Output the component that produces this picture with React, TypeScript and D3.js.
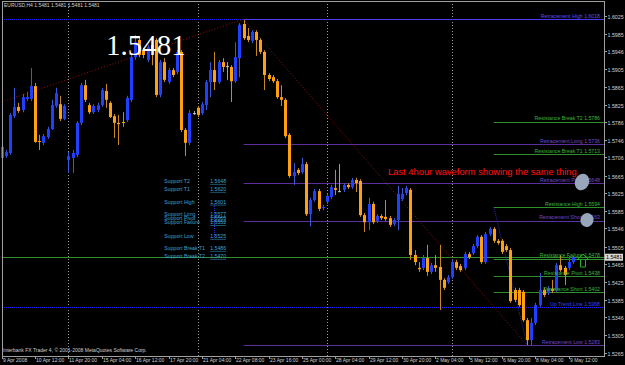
import React from "react";
import * as d3 from "d3";

// ---------- DATA (EURUSD H4) ----------
const opens = [1.5705,1.5709,1.5716,1.5799,1.5820,1.5813,1.5838,1.5838,1.5867,1.5743,1.5739,1.5752,1.5770,1.5822,1.5826,1.5793,1.5700,1.5705,1.5712,1.5784,1.5869,1.5824,1.5808,1.5813,1.5824,1.5856,1.5829,1.5799,1.5784,1.5786,1.5790,1.5836,1.5932,1.5971,1.5948,1.5926,1.5960,1.5971,1.5847,1.5921,1.5876,1.5903,1.5899,1.5944,1.5768,1.5739,1.5806,1.5818,1.5806,1.5824,1.5876,1.5903,1.5876,1.5921,1.5912,1.5910,1.5878,1.5930,1.6007,1.5980,1.5969,1.5989,1.5971,1.5944,1.5892,1.5887,1.5878,1.5842,1.5836,1.5757,1.5664,1.5678,1.5673,1.5691,1.5578,1.5610,1.5630,1.5592,1.5606,1.5617,1.5637,1.5630,1.5633,1.5644,1.5639,1.5655,1.5653,1.5576,1.5560,1.5601,1.5563,1.5574,1.5572,1.5569,1.5556,1.5565,1.5612,1.5626,1.5633,1.5486,1.5457,1.5457,1.5479,1.5448,1.5463,1.5459,1.5430,1.5425,1.5436,1.5470,1.5461,1.5457,1.5488,1.5490,1.5506,1.5527,1.5470,1.5533,1.5545,1.5518,1.5518,1.5506,1.5497,1.5407,1.5407,1.5403,1.5339,1.5294,1.5333,1.5373,1.5407,1.5400,1.5410,1.5407,1.5463,1.5457,1.5457,1.5470];
const highs = [1.5739,1.5723,1.5806,1.5863,1.5829,1.5849,1.5854,1.5908,1.5874,1.5757,1.5759,1.5775,1.5836,1.5863,1.5845,1.5826,1.5718,1.5723,1.5788,1.5874,1.5881,1.5829,1.5826,1.5829,1.5863,1.5872,1.5833,1.5804,1.5802,1.5808,1.5845,1.5937,1.5982,1.5980,1.5953,1.5960,1.5971,1.5975,1.5926,1.5930,1.5908,1.5908,1.5948,1.5948,1.5772,1.5813,1.5811,1.5822,1.5831,1.5881,1.5921,1.5944,1.5926,1.5930,1.5921,1.5914,1.5966,1.6009,1.6016,1.5998,1.5993,1.5993,1.5975,1.5948,1.5896,1.5892,1.5883,1.5869,1.5840,1.5761,1.5693,1.5682,1.5705,1.5696,1.5615,1.5635,1.5635,1.5599,1.5624,1.5644,1.5678,1.5691,1.5648,1.5648,1.5660,1.5660,1.5657,1.5581,1.5615,1.5606,1.5578,1.5578,1.5610,1.5574,1.5569,1.5642,1.5637,1.5642,1.5637,1.5497,1.5470,1.5486,1.5509,1.5468,1.5486,1.5509,1.5434,1.5441,1.5475,1.5475,1.5466,1.5493,1.5493,1.5511,1.5531,1.5531,1.5538,1.5549,1.5549,1.5522,1.5522,1.5511,1.5502,1.5412,1.5412,1.5407,1.5344,1.5344,1.5378,1.5445,1.5412,1.5416,1.5430,1.5468,1.5486,1.5461,1.5484,1.5484];
const lows = [1.5700,1.5705,1.5712,1.5795,1.5806,1.5808,1.5833,1.5833,1.5739,1.5723,1.5734,1.5748,1.5768,1.5818,1.5788,1.5790,1.5671,1.5671,1.5707,1.5779,1.5831,1.5804,1.5804,1.5808,1.5820,1.5818,1.5795,1.5750,1.5734,1.5775,1.5786,1.5831,1.5926,1.5932,1.5930,1.5921,1.5914,1.5842,1.5842,1.5876,1.5872,1.5887,1.5894,1.5763,1.5709,1.5734,1.5802,1.5797,1.5802,1.5813,1.5842,1.5858,1.5872,1.5899,1.5881,1.5831,1.5874,1.5887,1.5971,1.5966,1.5964,1.5935,1.5939,1.5858,1.5878,1.5874,1.5838,1.5822,1.5750,1.5660,1.5644,1.5666,1.5669,1.5574,1.5551,1.5606,1.5585,1.5587,1.5601,1.5612,1.5621,1.5628,1.5628,1.5635,1.5635,1.5628,1.5572,1.5538,1.5542,1.5556,1.5558,1.5565,1.5563,1.5549,1.5551,1.5542,1.5608,1.5621,1.5475,1.5463,1.5448,1.5452,1.5439,1.5443,1.5448,1.5362,1.5407,1.5421,1.5432,1.5452,1.5448,1.5452,1.5477,1.5486,1.5502,1.5466,1.5466,1.5529,1.5513,1.5509,1.5488,1.5493,1.5378,1.5380,1.5369,1.5335,1.5283,1.5283,1.5328,1.5369,1.5391,1.5396,1.5400,1.5403,1.5448,1.5418,1.5452,1.5466];
const closes = [1.5730,1.5718,1.5802,1.5820,1.5811,1.5842,1.5842,1.5867,1.5741,1.5741,1.5754,1.5770,1.5824,1.5851,1.5793,1.5822,1.5709,1.5716,1.5784,1.5869,1.5836,1.5808,1.5822,1.5824,1.5858,1.5836,1.5797,1.5784,1.5781,1.5784,1.5840,1.5932,1.5966,1.5937,1.5937,1.5955,1.5948,1.5847,1.5921,1.5881,1.5903,1.5892,1.5944,1.5768,1.5739,1.5806,1.5806,1.5802,1.5826,1.5876,1.5903,1.5876,1.5921,1.5910,1.5912,1.5878,1.5932,1.6005,1.5975,1.5971,1.5989,1.5971,1.5944,1.5892,1.5883,1.5878,1.5842,1.5836,1.5754,1.5664,1.5673,1.5671,1.5691,1.5578,1.5610,1.5630,1.5590,1.5594,1.5619,1.5639,1.5633,1.5630,1.5644,1.5639,1.5655,1.5648,1.5576,1.5560,1.5601,1.5560,1.5574,1.5569,1.5567,1.5554,1.5565,1.5624,1.5624,1.5637,1.5486,1.5470,1.5454,1.5479,1.5448,1.5463,1.5457,1.5430,1.5412,1.5436,1.5470,1.5457,1.5452,1.5488,1.5481,1.5506,1.5527,1.5470,1.5533,1.5545,1.5518,1.5513,1.5493,1.5497,1.5382,1.5385,1.5373,1.5339,1.5294,1.5333,1.5373,1.5407,1.5396,1.5412,1.5405,1.5463,1.5452,1.5441,1.5470,1.5481];

const dateLabels = ["9 Apr 2008","10 Apr 12:00","11 Apr 20:00","15 Apr 04:00","16 Apr 12:00","17 Apr 20:00","21 Apr 04:00","22 Apr 08:00","23 Apr 16:00","25 Apr 00:00","28 Apr 04:00","29 Apr 12:00","30 Apr 20:00","2 May 04:00","5 May 12:00","6 May 20:00","8 May 04:00","9 May 12:00"];
const priceTickLabels = ["1.6025","1.5985","1.5946","1.5905","1.5865","1.5825","1.5786","1.5746","1.5706","1.5665","1.5625","1.5585","1.5546","1.5505","1.5465","1.5425","1.5385","1.5346","1.5305","1.5265"];
const weekSeparatorBars = [16, 47, 78, 108];

const currentPrice = 1.5481;
const symbolHeader = "EURUSD,H4  1.5481 1.5481 1.5481 1.5481";
const copyright = "Interbank FX Trader 4, \u00A9 2001-2008 MetaQuotes Software Corp.";

const retracementNames = ["Retracement High","Retracement Long","Retracement Pivot","Retracement Short","Retracement Low"];
const retracementValues = [1.6018, 1.5736, 1.5648, 1.5563, 1.5283];
const resistanceNames = ["Resistance Break T2","Resistance Break T1","Resistance High","Resistance Failure","Resistance Pivot","Resistance Short"];
const resistanceValues = [1.5786, 1.5713, 1.5594, 1.5478, 1.5438, 1.5402];
const upTrendName = "Up Trend Line";
const upTrendValue = 1.5368;

const supportNames = ["Support  T2","Support  T1","Support   High","Support Long","Support   Pivot","Support Failure","Support   Low","Support Break T1","Support Break T2"];
const supportValues = [1.5648, 1.5620, 1.5601, 1.5577, 1.5565, 1.5552, 1.5525, 1.5486, 1.5470];
const supportLabelPrices = [1.5653, 1.5635, 1.5606, 1.5578, 1.5569, 1.5560, 1.5529, 1.5502, 1.5484];

// wave lines: [bar, price]
const waveUp = [[0, 1.5831], [58, 1.6018]];
const waveDown = [[58, 1.6018], [126, 1.5283]];
const lastWave = [[118, 1.5594], [126, 1.5283]];

const bigPriceText = "1.5481";
const noteText = "Last 4hour waveform showing the same thing";

// ---------- LAYOUT ----------
const W = 625, H = 365;
const L = 2, R = 604, T = 1, B = 356;
const FONT = "'Liberation Sans', Arial, sans-serif";

export default function App() {
  const n = closes.length;
  const x = d3.scaleLinear().domain([0, 137]).range([1.7, 573]);
  const y = d3.scaleLinear().domain([1.5265, 1.6025]).range([353, 16]);

  const BLUE = "#2040ff";
  const ORANGE = "#ffa010";
  const PURPLE = "#5c2f9c";
  const PURPLE_T = "#7048c8";
  const GREEN = "#2f8f2f";
  const GREEN_T = "#3cb43c";
  const CYAN = "#3aa0d8";

  const candles = d3.range(n).map((i) => {
    const o = opens[i], c = closes[i], h = highs[i], l = lows[i];
    const doji = Math.abs(o - c) < 0.00006;
    const up = c > o;
    const col = doji ? "#c8c8c8" : up ? BLUE : ORANGE;
    const wick = doji ? "#a0a0a0" : up ? "#3a58d8" : "#c88a20";
    const xc = Math.round(x(i)) + 0.5;
    const y1 = y(Math.max(o, c)), y2 = y(Math.min(o, c));
    return (
      <g key={i}>
        <line x1={xc} x2={xc} y1={y(h)} y2={y(l)} stroke={wick} strokeWidth={1} />
        <rect x={xc - 1.5} y={y1} width={3} height={Math.max(1, y2 - y1)} fill={col} />
      </g>
    );
  });

  const line = d3.line<number[]>().x((d) => x(d[0])).y((d) => y(d[1]));

  const retrStart = x(58);
  const resStart = x(118);

  return (
    <svg width={W} height={H} style={{ position: "fixed", left: 0, top: 0, background: "#000" }} fontFamily={FONT}>
      <rect x={0} y={0} width={W} height={H} fill="#000" />
      {/* week separators */}
      {weekSeparatorBars.map((b) => (
        <line key={b} x1={Math.round(x(b)) + 0.5} x2={Math.round(x(b)) + 0.5} y1={T} y2={B} stroke="#9a9a9a" strokeDasharray="1,2" />
      ))}
      {/* retracement high dotted blue full width */}
      <line x1={L} x2={R} y1={Math.round(y(retracementValues[0])) + 0.5} y2={Math.round(y(retracementValues[0])) + 0.5} stroke="#2222ff" strokeDasharray="1,1" />
      {/* up trend line dotted */}
      <line x1={L} x2={R} y1={Math.round(y(upTrendValue)) + 0.5} y2={Math.round(y(upTrendValue)) + 0.5} stroke="#2222ff" strokeDasharray="1,1" />
      {/* bid line */}
      <line x1={L} x2={R} y1={Math.round(y(currentPrice)) + 0.5} y2={Math.round(y(currentPrice)) + 0.5} stroke={GREEN} />
      {/* retracement lines */}
      {retracementValues.map((v, i) => (
        <line key={"rl" + i} x1={retrStart} x2={R} y1={Math.round(y(v)) + 0.5} y2={Math.round(y(v)) + 0.5} stroke={i === 0 ? "#4a3cf0" : PURPLE} />
      ))}
      {/* resistance lines */}
      {resistanceValues.map((v, i) => (
        <line key={"sl" + i} x1={resStart} x2={R} y1={Math.round(y(v)) + 0.5} y2={Math.round(y(v)) + 0.5} stroke={GREEN} />
      ))}
      {/* wave lines */}
      <path d={line(waveUp as any) || ""} stroke="#9a1010" strokeDasharray="1,2" fill="none" />
      <path d={line(waveDown as any) || ""} stroke="#9a1010" strokeDasharray="1,2" fill="none" />
      <path d={line(lastWave as any) || ""} stroke="#2a2ab0" strokeDasharray="1,1" fill="none" />

      {/* candles */}
      {candles}

      {/* support labels */}
      <line x1={Math.round(x(51)) + 0.5} x2={Math.round(x(51)) + 0.5} y1={y(supportValues[2])} y2={y(supportValues[6])} stroke="#2a2ad0" strokeDasharray="1,1" />
      {supportNames.map((s, i) => (
        <g key={"sp" + i}>
          <text x={x(39)} y={y(supportLabelPrices[i]) + 2} fontSize={5.2} fill={CYAN}>{s}</text>
          <text x={x(50)} y={y(supportLabelPrices[i]) + 2} fontSize={5.2} fill={CYAN} textDecoration="underline">{supportValues[i].toFixed(4)}</text>
        </g>
      ))}

      {/* object labels */}
      {retracementValues.map((v, i) => (
        <text key={"rt" + i} x={600} y={y(v) - 1.5} fontSize={5.2} fill={i === 0 ? "#5a4cf0" : PURPLE_T} textAnchor="end">{retracementNames[i]}  {v.toFixed(4)}</text>
      ))}
      {resistanceValues.map((v, i) => (
        <text key={"st" + i} x={600} y={y(v) - 1.5} fontSize={5.2} fill={GREEN_T} textAnchor="end">{resistanceNames[i]}  {v.toFixed(4)}</text>
      ))}
      <text x={600} y={y(upTrendValue) - 1.5} fontSize={5.2} fill="#3040ff" textAnchor="end">{upTrendName}  {upTrendValue.toFixed(4)}</text>

      {/* ellipses */}
      <ellipse cx={582} cy={182} rx={7} ry={8.5} fill="#98a6bc" transform="rotate(25 582 182)" />
      <ellipse cx={587} cy={220} rx={6.5} ry={7} fill="#98a6bc" transform="rotate(25 587 220)" />

      {/* arrow */}
      <path d="M583,254 L588.5,259.5 L585.5,259.5 L585.5,267 L580.5,267 L580.5,259.5 L577.5,259.5 Z" fill="none" stroke="#22b022" strokeWidth={1} />

      {/* annotations */}
      <text x={106} y={55} fontSize={29} fill="#ffffff" fontFamily="'Liberation Serif', 'Times New Roman', serif">{bigPriceText}</text>
      <text x={388} y={175} fontSize={9.4} fill="#ff1414">{noteText}</text>

      {/* frame */}
      <rect x={L + 0.5} y={T + 0.5} width={R - L} height={B - T} fill="none" stroke="#a0a0a0" />

      {/* right axis */}
      {priceTickLabels.map((s) => {
        const yy = Math.round(y(parseFloat(s))) + 0.5;
        return (
          <g key={s}>
            <line x1={R} x2={R + 3} y1={yy} y2={yy} stroke="#a0a0a0" />
            <text x={R + 3.5} y={yy + 2} fontSize={5.3} fill="#d0d0d0">{s}</text>
          </g>
        );
      })}
      <rect x={605} y={y(currentPrice) - 3.5} width={18} height={7} fill="#d8d8d8" />
      <text x={606} y={y(currentPrice) + 2} fontSize={5.3} fill="#000">{currentPrice.toFixed(4)}</text>

      {/* bottom axis */}
      {dateLabels.map((s, i) => {
        const xx = Math.round(x(i * 8)) + 0.5;
        return (
          <g key={s}>
            <line x1={xx} x2={xx} y1={B} y2={B + 3} stroke="#a0a0a0" />
            <text x={xx + 0.5} y={362} fontSize={5} fill="#d0d0d0">{s}</text>
          </g>
        );
      })}

      {/* header / footer */}
      <text x={4} y={7} fontSize={5} fill="#d0d0d0">{symbolHeader}</text>
      <text x={3} y={352} fontSize={5} fill="#d0d0d0">{copyright}</text>
    </svg>
  );
}
